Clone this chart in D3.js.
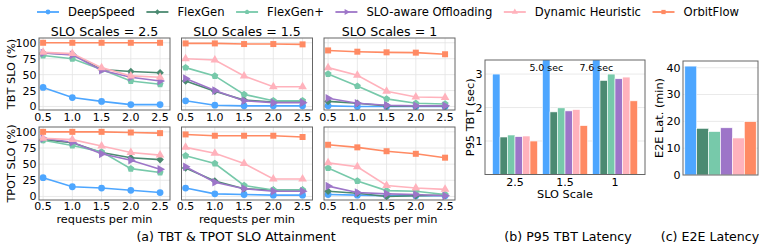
<!DOCTYPE html>
<html>
<head>
<meta charset="utf-8">
<script src="https://cdn.jsdelivr.net/npm/d3@7"></script>
<style>
  body { margin: 0; background: #fff; }
  svg { display: block; font-family: "DejaVu Sans", sans-serif; }
</style>
</head>
<body>
<script>
// methods and colours
const methods = ['DeepSpeed', 'FlexGen', 'FlexGen+', 'SLO-aware Offloading', 'Dynamic Heuristic', 'OrbitFlow'];
const colors = ['#4DA6FF', '#4B8A71', '#77C9AA', '#9D75C8', '#FFB2BC', '#FF8A63'];

// x values of the line charts
const rates = [0.5, 1.0, 1.5, 2.0, 2.5];
const sloScales = ['2.5', '1.5', '1'];

// TBT SLO attainment (%), one row per method
const tbt25 = [[30, 14, 8, 3, 3], [84, 82, 58, 55, 53], [80, 75, 58, 40, 35], [84, 81, 57, 46, 40], [85, 83, 61, 48, 46], [100, 100, 100, 100, 100]];
const tbt15 = [[9, 2, 1, 1, 1], [40, 24, 10, 7, 7], [61, 48, 19, 9, 9], [44, 25, 9, 6, 6], [75, 73, 48, 31, 31], [99, 99, 98, 98, 97.5]];
const tbt1 = [[1, 0, 0, 0, 0], [8, 5, 1, 0.5, 0.5], [51, 32, 12, 5, 4], [13, 5, 2, 1, 1], [61, 49, 24, 15, 14], [88, 86, 85, 84.5, 82]];

// TPOT SLO attainment (%)
const tpot25 = [[29, 15, 13, 9.5, 6], [88, 83, 68, 60, 57], [87, 79, 69, 43, 37], [90, 84, 66, 56, 42], [90, 88, 78, 68, 64], [100, 100, 100, 99, 98]];
const tpot15 = [[13, 4, 3, 2, 2], [44, 24, 12, 10, 10], [63, 51, 17, 10, 10], [46, 22, 12, 8, 8], [76, 67, 51, 27, 27], [96, 94, 94, 94, 92]];
const tpot1 = [[3, 2, 1, 1, 1], [8, 5, 0, 1, 2], [44, 24, 9, 8, 3], [16, 6, 4, 3, 1], [52, 46, 17, 13, 11], [80, 76, 70, 66, 60]];

// P95 TBT (sec) per SLO scale, one row per method
const p95 = [[3.0, 5.0, 7.6], [1.12, 1.87, 2.81], [1.18, 1.99, 3.0], [1.13, 1.9, 2.86], [1.15, 1.94, 2.91], [1.0, 1.46, 2.2]];
// E2E latency (min)
const e2e = [40.6, 17.4, 16.2, 17.6, 13.8, 19.9];

const width = 761, height = 247;
const svg = d3.select('body').append('svg')
    .attr('width', width)
    .attr('height', height);

// font sizes
const fsLegend = 11.6, fsTick = 11, fsLabel = 11.3, fsTitle = 12.6;

// marker shapes (pentagon is not in d3)
const pentagon = {
    draw(ctx, size) {
        const r = Math.sqrt(size / 2.378);
        for (let i = 0; i < 5; i++) {
            const a = -Math.PI / 2 + i * 2 * Math.PI / 5;
            const x = r * Math.cos(a), y = r * Math.sin(a);
            i ? ctx.lineTo(x, y) : ctx.moveTo(x, y);
        }
        ctx.closePath();
    }
};
const markers = [
    {type: d3.symbolCircle, rot: 0, k: 1},
    {type: d3.symbolSquare, rot: 45, k: 0.8},
    {type: pentagon, rot: 0, k: 0.9},
    {type: d3.symbolTriangle, rot: 90, k: 0.9},
    {type: d3.symbolTriangle, rot: 0, k: 0.9},
    {type: d3.symbolSquare, rot: 0, k: 1}
];
const drawMarker = (g, i, x, y, size) => g.append('path')
    .attr('d', d3.symbol().type(markers[i].type).size(size * markers[i].k))
    .attr('transform', `translate(${x},${y}) rotate(${markers[i].rot})`)
    .attr('fill', colors[i]);

const frameColor = '#666', gridColor = '#e3e3e3';

//Legend
let lx = 37;
methods.forEach((m, i) => {
    const g = svg.append('g');
    g.append('line').attr('x1', lx).attr('x2', lx + 22).attr('y1', 12).attr('y2', 12)
        .attr('stroke', colors[i]).attr('stroke-width', 1.8);
    drawMarker(g, i, lx + 11, 12, 18);
    const t = g.append('text').attr('x', lx + 31).attr('y', 16)
        .attr('font-size', fsLegend).text(m);
    lx += 31 + t.node().getComputedTextLength() + 11.5;
});

//Line charts
const panelX = [39, 181.5, 324], panelW = 131;
const rows = [
    {label: 'TBT SLO (%)', data: [tbt25, tbt15, tbt1], top: 38, bottom: 110, tickY: 121.3},
    {label: 'TPOT SLO (%)', data: [tpot25, tpot15, tpot1], top: 127, bottom: 200, tickY: 210.2}
];

rows.forEach((row, r) => {
    const y = d3.scaleLinear().domain([-5.5, 107.5]).range([row.bottom, row.top]);
    row.data.forEach((series, p) => {
        const x = d3.scaleLinear().domain([0.43, 2.67]).range([panelX[p], panelX[p] + panelW]);
        const g = svg.append('g');

        //grid
        g.selectAll('.gx').data(rates).enter().append('line')
            .attr('x1', d => x(d)).attr('x2', d => x(d))
            .attr('y1', row.top).attr('y2', row.bottom)
            .attr('stroke', gridColor).attr('stroke-width', 0.8);
        g.selectAll('.gy').data([0, 25, 50, 75, 100]).enter().append('line')
            .attr('x1', panelX[p]).attr('x2', panelX[p] + panelW)
            .attr('y1', d => y(d)).attr('y2', d => y(d))
            .attr('stroke', gridColor).attr('stroke-width', 0.8);

        //lines and markers
        const line = d3.line().x((d, i) => x(rates[i])).y(d => y(d));
        series.forEach((vals, i) => {
            g.append('path').attr('d', line(vals))
                .attr('fill', 'none').attr('stroke', colors[i]).attr('stroke-width', 1.6);
            vals.forEach((v, j) => drawMarker(g, i, x(rates[j]), y(v), 36));
        });

        //frame
        g.append('rect').attr('x', panelX[p]).attr('y', row.top)
            .attr('width', panelW).attr('height', row.bottom - row.top)
            .attr('fill', 'none').attr('stroke', frameColor).attr('stroke-width', 1);

        //x tick labels
        g.selectAll('.tx').data(rates).enter().append('text')
            .attr('x', d => x(d)).attr('y', row.tickY)
            .attr('text-anchor', 'middle').attr('font-size', fsTick)
            .text(d => d3.format('.1f')(d));

        if (p === 0) {
            g.selectAll('.ty').data([0, 25, 50, 75, 100]).enter().append('text')
                .attr('x', panelX[p] - 2.5).attr('y', d => y(d))
                .attr('dy', '0.36em').attr('text-anchor', 'end').attr('font-size', fsTick)
                .text(d => d);
            g.append('text')
                .attr('transform', `translate(14.5,${(row.top + row.bottom) / 2}) rotate(-90)`)
                .attr('text-anchor', 'middle').attr('font-size', fsLabel)
                .text(row.label);
        }
        if (r === 0) {
            g.append('text').attr('x', panelX[p] + panelW / 2).attr('y', 35.8)
                .attr('text-anchor', 'middle').attr('font-size', fsTitle)
                .text(`SLO Scales = ${sloScales[p]}`);
        } else {
            g.append('text').attr('x', panelX[p] + panelW / 2).attr('y', 223)
                .attr('text-anchor', 'middle').attr('font-size', fsLabel)
                .text('requests per min');
        }
    });
});

//(b) P95 TBT bar chart
const bTop = 60, bBottom = 174.5, bLeft = 485, bRight = 645;
const bx = d3.scaleBand().domain(sloScales).range([bLeft, bRight])
    .paddingInner(0.1).paddingOuter(0.15);
const bxi = d3.scaleBand().domain(d3.range(methods.length)).range([0, bx.bandwidth()]);
const by = d3.scaleLinear().domain([0, 3.42]).range([bBottom, bTop]);
const gb = svg.append('g');
gb.append('clipPath').attr('id', 'clipb').append('rect')
    .attr('x', bLeft).attr('y', bTop).attr('width', bRight - bLeft).attr('height', bBottom - bTop);
gb.selectAll('.gy').data([1, 2, 3]).enter().append('line')
    .attr('x1', bLeft).attr('x2', bRight).attr('y1', d => by(d)).attr('y2', d => by(d))
    .attr('stroke', gridColor).attr('stroke-width', 0.8);
const bars = gb.append('g').attr('clip-path', 'url(#clipb)');
p95.forEach((vals, i) => {
    bars.selectAll(null).data(vals).enter().append('rect')
        .attr('x', (d, j) => bx(sloScales[j]) + bxi(i))
        .attr('y', d => by(d))
        .attr('width', bxi.bandwidth())
        .attr('height', d => by(0) - by(d))
        .attr('fill', colors[i]).attr('stroke', '#fff').attr('stroke-width', 0.6);
});
// labels on the clipped DeepSpeed bars
p95[0].forEach((v, j) => {
    if (v > 3.42) {
        gb.append('text').attr('x', bx(sloScales[j]) + bxi(0) + bxi.bandwidth() / 2)
            .attr('y', 71.3).attr('text-anchor', 'middle').attr('font-size', 9.4)
            .text(`${v.toFixed(1)} sec`);
    }
});
gb.append('rect').attr('x', bLeft).attr('y', bTop).attr('width', bRight - bLeft)
    .attr('height', bBottom - bTop).attr('fill', 'none').attr('stroke', frameColor);
gb.selectAll('.ty').data([1, 2, 3]).enter().append('text')
    .attr('x', bLeft - 2.5).attr('y', d => by(d)).attr('dy', '0.36em')
    .attr('text-anchor', 'end').attr('font-size', fsTick).text(d => d);
gb.selectAll('.tx').data(sloScales).enter().append('text')
    .attr('x', d => bx(d) + bx.bandwidth() / 2).attr('y', bBottom + 11.5)
    .attr('text-anchor', 'middle').attr('font-size', fsTick).text(d => d);
gb.append('text').attr('x', (bLeft + bRight) / 2).attr('y', 197.5)
    .attr('text-anchor', 'middle').attr('font-size', fsLabel).text('SLO Scale');
gb.append('text')
    .attr('transform', `translate(474,${(bTop + bBottom) / 2}) rotate(-90)`)
    .attr('text-anchor', 'middle').attr('font-size', fsLabel).text('P95 TBT (sec)');

//(c) E2E latency bar chart
const cTop = 61, cBottom = 175, cLeft = 683, cRight = 758;
const cx = d3.scaleBand().domain(methods).range([cLeft, cRight]).paddingOuter(0.15);
const cy = d3.scaleLinear().domain([0, 42.5]).range([cBottom, cTop]);
const gc = svg.append('g');
gc.selectAll('.gy').data([10, 20, 30, 40]).enter().append('line')
    .attr('x1', cLeft).attr('x2', cRight).attr('y1', d => cy(d)).attr('y2', d => cy(d))
    .attr('stroke', gridColor).attr('stroke-width', 0.8);
gc.selectAll('.bar').data(e2e).enter().append('rect')
    .attr('x', (d, i) => cx(methods[i]))
    .attr('y', d => cy(d))
    .attr('width', cx.bandwidth())
    .attr('height', d => cy(0) - cy(d))
    .attr('fill', (d, i) => colors[i]).attr('stroke', '#fff').attr('stroke-width', 0.6);
gc.append('rect').attr('x', cLeft).attr('y', cTop).attr('width', cRight - cLeft)
    .attr('height', cBottom - cTop).attr('fill', 'none').attr('stroke', frameColor);
gc.selectAll('.ty').data([0, 10, 20, 30, 40]).enter().append('text')
    .attr('x', cLeft - 2.5).attr('y', d => cy(d)).attr('dy', '0.36em')
    .attr('text-anchor', 'end').attr('font-size', fsTick).text(d => d);
gc.append('text')
    .attr('transform', `translate(662.5,${(cTop + cBottom) / 2}) rotate(-90)`)
    .attr('text-anchor', 'middle').attr('font-size', fsLabel).text('E2E Lat. (min)');

//captions
const captions = [['(a) TBT & TPOT SLO Attainment', 236], ['(b) P95 TBT Latency', 568], ['(c) E2E Latency', 710]];
svg.selectAll('.cap').data(captions).enter().append('text')
    .attr('x', d => d[1]).attr('y', 240.5).attr('text-anchor', 'middle')
    .attr('font-size', fsTitle).text(d => d[0]);
</script>
</body>
</html>
